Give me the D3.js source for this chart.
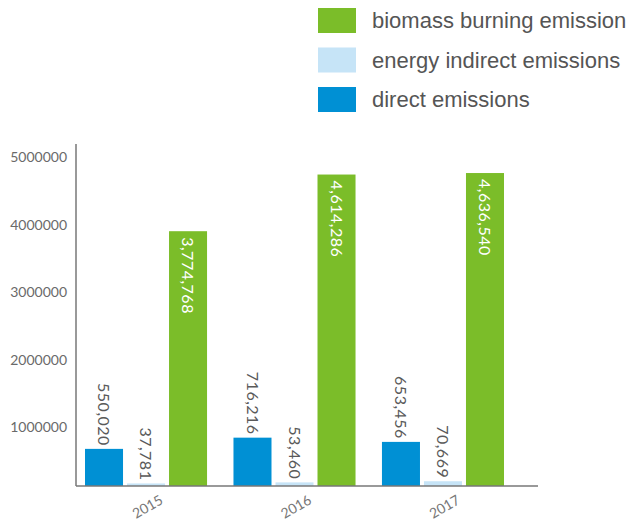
<!DOCTYPE html>
<html>
<head>
<meta charset="utf-8">
<script src="https://cdn.jsdelivr.net/npm/d3@7"></script>
<style>
  html, body { margin: 0; padding: 0; background: #fff; }
  svg { display: block; }
</style>
</head>
<body>
<svg id="chart" width="634" height="522"></svg>
<script>
const years = ["2015", "2016", "2017"];
const seriesNames = ["direct emissions", "energy indirect emissions", "biomass burning emission"];
const directEmissions = [550020, 716216, 653456];
const energyIndirect = [37781, 53460, 70669];
const biomassBurning = [3774768, 4614286, 4636540];
const yTicks = [1000000, 2000000, 3000000, 4000000, 5000000];
const legendOrder = ["biomass burning emission", "energy indirect emissions", "direct emissions"];
const colors = { "direct emissions": "#0090D4", "energy indirect emissions": "#C6E4F7", "biomass burning emission": "#7BBD29" };

const seriesValues = [directEmissions, energyIndirect, biomassBurning];
const data = years.map((yr, i) => ({
  year: yr,
  values: seriesNames.map((s, j) => ({ key: s, value: seriesValues[j][i] }))
}));

const svg = d3.select("#chart");
const baseY = 486, axisLeft = 76, axisRight = 538;

const y = d3.scaleLinear().domain([0, 5000000]).range([baseY, baseY - 337.5]);
const x0 = d3.scaleBand().domain(years).range([85, 504]).paddingInner(0.178);
const x1 = d3.scaleBand().domain(seriesNames).range([0, x0.bandwidth()]).paddingInner(0.095);

const tickFont = "Lato, 'Liberation Sans', sans-serif";

// y tick labels
const yAxis = d3.axisLeft(y).tickValues(yTicks).tickSize(0).tickFormat(d3.format("d"));
const gy = svg.append("g").attr("transform", `translate(${axisLeft - 9},0)`).call(yAxis);
gy.select(".domain").remove();
gy.selectAll("text")
  .attr("dy", "0.93em")
  .attr("x", 0)
  .attr("fill", "#6a6a6a")
  .style("font-family", tickFont)
  .style("font-weight", 400)
  .style("font-size", "14px");

// groups & bars
const groups = svg.append("g").selectAll("g").data(data).join("g")
  .attr("transform", d => `translate(${x0(d.year)},0)`);

groups.selectAll("rect").data(d => d.values).join("rect")
  .attr("x", d => x1(d.key))
  .attr("width", x1.bandwidth())
  .attr("y", d => y(d.value))
  .attr("height", d => baseY - y(d.value))
  .attr("fill", d => colors[d.key]);

const fmt = d3.format(",");
groups.selectAll("text.val").data(d => d.values).join("text")
  .attr("class", "val")
  .attr("transform", d => {
    const cx = x1(d.key) + x1.bandwidth() / 2;
    const inside = d.key === "biomass burning emission";
    const ty = inside ? y(d.value) + 6 : y(d.value) - 3;
    return `translate(${cx},${ty}) rotate(90)`;
  })
  .attr("text-anchor", d => d.key === "biomass burning emission" ? "start" : "end")
  .attr("dy", "0.36em")
  .attr("fill", d => d.key === "biomass burning emission" ? "#ffffff" : "#5a5a5a")
  .style("font-family", tickFont)
  .style("font-weight", 400)
  .style("font-size", "16px")
  .style("letter-spacing", "0.5px")
  .text(d => fmt(d.value));

// axes lines
svg.append("line").attr("x1", axisLeft).attr("x2", axisLeft).attr("y1", 144).attr("y2", baseY)
  .attr("stroke", "#777").attr("stroke-width", 1.5);
svg.append("line").attr("x1", axisLeft).attr("x2", axisRight).attr("y1", baseY).attr("y2", baseY)
  .attr("stroke", "#777").attr("stroke-width", 1.5);

// x labels
const xAxis = d3.axisBottom(x0).tickSize(0);
const gx = svg.append("g").attr("transform", `translate(0,${baseY})`).call(xAxis);
gx.select(".domain").remove();
gx.selectAll("text")
  .attr("y", 0).attr("dy", 0)
  .attr("text-anchor", "middle")
  .attr("transform", "translate(4,25) rotate(-30)")
  .attr("fill", "#777")
  .style("font-family", tickFont)
  .style("font-weight", 400)
  .style("font-size", "14px");

// legend
const legend = svg.append("g").selectAll("g").data(legendOrder).join("g")
  .attr("transform", (d, i) => `translate(318,${8 + i * 39.5})`);
legend.append("rect").attr("width", 38).attr("height", 25).attr("fill", d => colors[d]);
legend.append("text")
  .attr("x", 54).attr("y", 12.5).attr("dy", "0.35em")
  .attr("fill", "#555")
  .style("font-family", "'Liberation Sans', Arial, sans-serif")
  .style("font-size", "22px")
  .text(d => d);
</script>
</body>
</html>
